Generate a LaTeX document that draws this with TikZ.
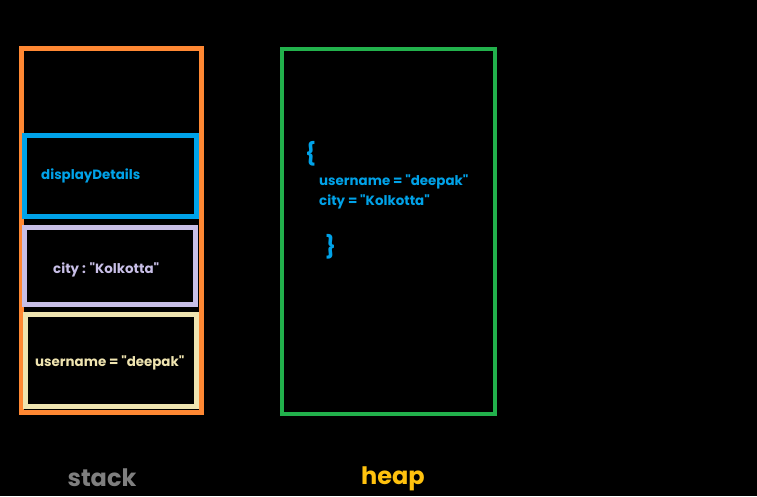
\documentclass[tikz,border=0pt]{standalone}
\usepackage{fontspec}
\setmainfont{Poppins}
\definecolor{orng}{HTML}{FF8833}
\definecolor{grn}{HTML}{22B14C}
\definecolor{blu}{HTML}{00A2E8}
\definecolor{lav}{HTML}{C8BFE7}
\definecolor{crm}{HTML}{EFE4B0}
\definecolor{gry}{HTML}{7F7F7F}
\definecolor{gold}{HTML}{FFC20E}
\newcommand{\q}{\textquotedbl}
\begin{document}
\begin{tikzpicture}[x=1pt,y=-1pt,
  frame/.style={line width=5pt},
  lbl/.style={font=\bfseries\fontsize{13.4}{15}\selectfont, anchor=west, inner sep=0pt},
  brace/.style={font=\bfseries\fontsize{22}{26}\selectfont, anchor=west, inner sep=0pt, text=blu},
  big/.style={font=\bfseries\fontsize{24}{28}\selectfont, anchor=center, inner sep=0pt}]
\fill[black] (0,0) rectangle (757,496);
\useasboundingbox (0,0) rectangle (757,496);
% stack
\draw[frame,orng] (21.5,48.5) rectangle (201.5,412);
\draw[frame,blu] (24.5,135.5) rectangle (196.5,216.5);
\draw[frame,lav] (24.5,227.5) rectangle (195.3,304);
\draw[frame,crm] (25.8,314) rectangle (196.5,406.5);
\node[lbl,text=blu] (dd) at (41,175.5) {displayDetails};
\node[lbl,text=lav] (city) at (53,269.5) {city : \q Kolkotta\q};
\node[lbl,text=crm] (user) at (35,362.5) {username = \q deepak\q};
% heap
\draw[line width=4.5pt,grn] (282,49) rectangle (495,414);
\node[brace] (lb) at (305,153.5) {\{};
\node[lbl,text=blu] (hu) at (319,181.5) {username = \q deepak\q};
\node[lbl,text=blu] (hc) at (319,201.5) {city = \q Kolkotta\q};
\node[brace] (rb) at (325,246.5) {\}};
% labels
\node[big,text=gry] (stack) at (102,477.5) {stack};
\node[big,text=gold] (heap) at (393,478.5) {heap};
\end{tikzpicture}
\end{document}
